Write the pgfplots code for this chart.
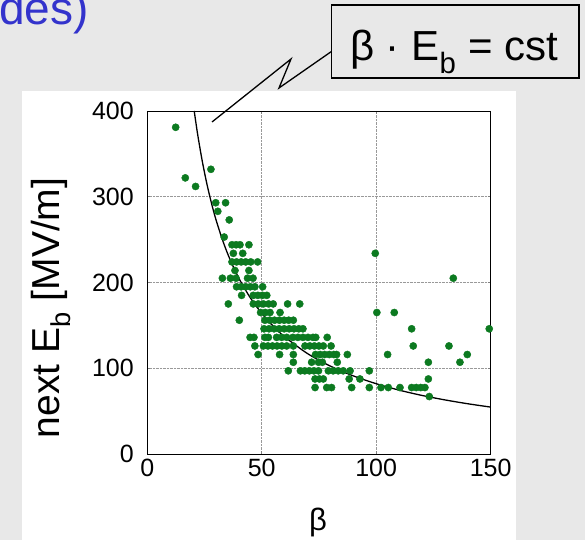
\documentclass[border=0pt]{standalone}
\usepackage{fontspec}
\setmainfont{Liberation Sans}
\usepackage{pgfplots}
\pgfplotsset{compat=1.18}
\definecolor{bg}{RGB}{232,232,232}
\definecolor{ptgreen}{RGB}{12,122,32}
\definecolor{titleblue}{RGB}{51,51,204}
\begin{document}
\begin{tikzpicture}[x=1bp,y=1bp]
\fill[bg] (0,0) rectangle (585,540);
\fill[white] (21.7,0) rectangle (516,449);
\begin{scope}
\clip (0,0) rectangle (585,540);
\node[anchor=base east, inner sep=0, text=titleblue, font=\fontsize{46bp}{50bp}\selectfont] at (89,515) {des)};
\end{scope}
\begin{axis}[
  at={(147.3bp,86bp)}, anchor=south west,
  scale only axis, width=343.3bp, height=343bp,
  xmin=0, xmax=150, ymin=0, ymax=400,
  xtick={0,50,100,150}, ytick={0,100,200,300,400},
  grid=major,
  major grid style={gray!80, densely dotted, line width=0.5bp},
  axis line style={black, line width=0.8bp},
  tick style={gray, line width=0.5bp},
  tick align=inside, major tick length=3bp,
  ticklabel style={font=\fontsize{25bp}{29bp}\selectfont},
  /pgf/number format/assume math mode=true,
  xticklabel style={yshift=-2bp},
  yticklabel style={xshift=-10bp},
  clip mode=individual,
]
\addplot[black, line width=1.3bp, smooth] table {
20.5 400
22 372.7
24 341.7
26 315.4
28 292.9
30 273.3
33 248.5
36 227.8
40 205
45 182.2
50 164
55 149.1
60 136.7
70 117.1
80 102.5
90 91.1
100 82
110 74.5
120 68.3
130 63.1
140 58.6
150 54.7
};
\addplot[only marks, mark=*, mark size=3.6bp, color=ptgreen, mark options={draw=ptgreen, fill=ptgreen}] table {
12.4 381
27.8 332
16.6 322
21.1 312
29.9 293
34.2 293
30.8 283
35.8 273
33.6 253
37.0 244
38.8 244
40.5 244
44.4 244
37.6 234
41.7 234
99.6 234
37.0 224
39.0 224
41.0 224
43.0 224
45.2 224
48.2 224
38.3 214
44.4 214
32.8 205
36.3 205
38.8 205
43.8 205
46.2 205
133.7 205
39.0 195
41.0 195
43.0 195
45.0 195
47.0 195
50.4 195
41.2 185
46.3 185
48.3 185
50.3 185
52.2 185
35.4 175
46.3 175
48.5 175
50.7 175
53.0 175
55.0 175
61.3 175
66.6 175
49.5 165
51.5 165
53.6 165
58.0 165
100.3 165
107.9 165
40.2 156
51.4 156
53.5 156
55.6 156
57.7 156
59.8 156
61.8 156
63.8 156
51.0 146
53.2 146
55.4 146
57.6 146
59.8 146
62.0 146
64.1 146
66.2 146
68.0 146
115.5 146
149.4 146
44.9 136
46.6 136
51.4 136
52.9 136
56.5 136
58.7 136
60.9 136
63.6 136
65.8 136
68.0 136
70.2 136
72.4 136
73.6 136
78.6 136
47.0 126
50.7 126
52.7 126
54.7 126
56.7 126
58.8 126
60.9 126
63.8 126
68.9 126
71.0 126
73.0 126
75.0 126
76.9 126
80.3 126
116.2 126
131.8 126
48.4 116
57.8 116
63.8 116
73.5 116
75.5 116
77.5 116
79.5 116
81.5 116
82.7 116
87.4 116
105.0 116
139.8 116
63.8 107
71.8 107
74.8 107
76.5 107
83.0 107
122.8 107
136.6 107
61.6 97
66.9 97
68.8 97
70.8 97
72.8 97
74.8 97
79.1 97
81.2 97
83.4 97
85.6 97
88.6 97
97.0 97
73.3 87.5
75.2 87.5
76.9 87.5
88.2 87.5
92.9 87.5
122.8 87.5
73.3 77.5
78.4 77.5
80.5 77.5
89.3 77.5
97.0 77.5
102.1 77.5
105.3 77.5
110.4 77.5
115.5 77.5
117.5 77.5
119.5 77.5
121.3 77.5
123.2 67
};
\end{axis}
\node[rotate=90, anchor=base, inner sep=0, font=\fontsize{39bp}{44bp}\selectfont] at (59.3,232) {next E\textsubscript{b} [MV/m]};
\node[anchor=base, inner sep=0, font=\fontsize{31bp}{35bp}\selectfont] at (318,9) {β};
\draw[line width=1.3bp] (335,491) -- (279,452) -- (291,481) -- (212,418);
\draw[line width=1.3bp, fill=bg] (331.7,462) rectangle (579,535);
\node[anchor=base, inner sep=0, font=\fontsize{42bp}{46bp}\selectfont] at (454,479) {β · E\textsubscript{b} = cst};
\pgfresetboundingbox
\path[use as bounding box] (0,0) rectangle (585,540);
\end{tikzpicture}
\end{document}
